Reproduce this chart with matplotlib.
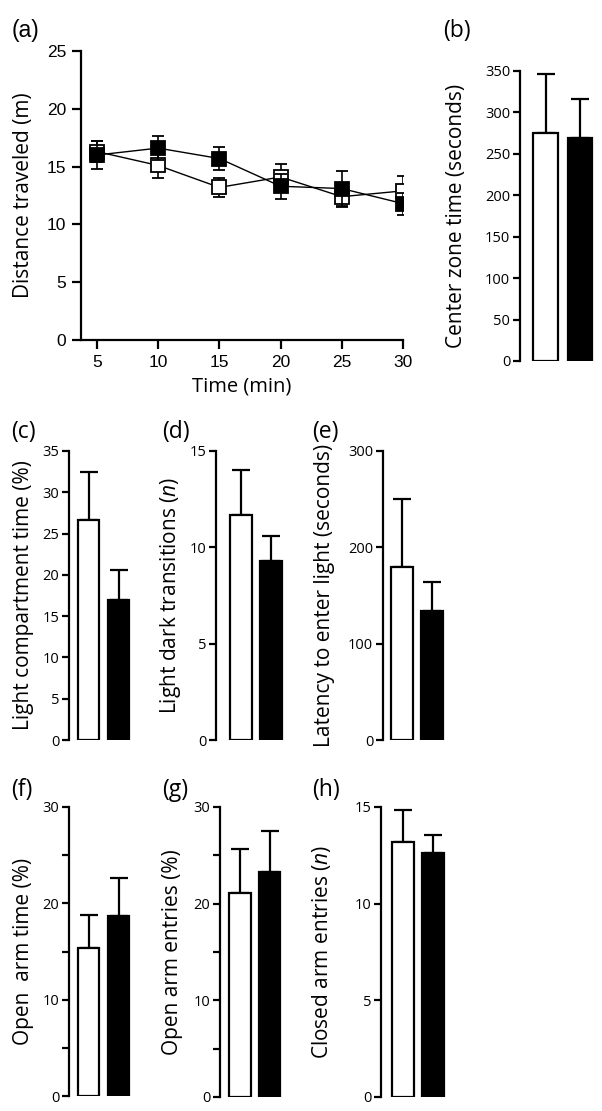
import matplotlib
matplotlib.use("Agg")
import matplotlib.pyplot as plt
import numpy as np

# ---------------- data ----------------
time_min = [5, 10, 15, 20, 25, 30]
dist_open = [16.3, 15.1, 13.2, 14.1, 12.4, 12.9]
dist_open_err = [0.9, 1.1, 0.85, 1.1, 0.9, 1.3]
dist_filled = [16.0, 16.6, 15.7, 13.3, 13.1, 11.8]
dist_filled_err = [1.2, 1.05, 1.0, 1.1, 1.55, 0.95]

center_zone = [274.7, 269.0]
center_zone_err = [71.5, 47.0]

light_comp = [26.7, 17.0]
light_comp_err = [5.8, 3.6]

ld_trans = [11.7, 9.3]
ld_trans_err = [2.3, 1.3]

latency = [180.0, 133.6]
latency_err = [70.5, 30.5]

open_arm_time = [15.4, 18.65]
open_arm_time_err = [3.4, 4.0]

open_arm_entries = [21.1, 23.3]
open_arm_entries_err = [4.6, 4.2]

closed_arm_entries = [13.2, 12.6]
closed_arm_entries_err = [1.65, 0.95]

W, H = 602, 1111
plt.rcParams['font.family'] = ['Open Sans', 'DejaVu Sans']
plt.rcParams['mathtext.fontset'] = 'custom'
plt.rcParams['mathtext.it'] = 'Open Sans:italic'
plt.rcParams['mathtext.rm'] = 'Open Sans'

fig = plt.figure(figsize=(W / 100, H / 100), dpi=100)

LETTER_SIZE = 16.5
YLABEL_SIZE = 15


def px_axes(left, top, right, bottom):
    return fig.add_axes([left / W, 1 - bottom / H, (right - left) / W, (bottom - top) / H])


# ---------------- panel (a) ----------------
axa = px_axes(81, 51, 403, 340)
for vals, errs, face in [(dist_open, dist_open_err, 'white'), (dist_filled, dist_filled_err, 'black')]:
    axa.errorbar(time_min, vals, yerr=errs, color='black', lw=1.0, elinewidth=1.2,
                 capsize=4.5, capthick=1.2, marker='s', markersize=9.5,
                 markerfacecolor=face, markeredgecolor='black', markeredgewidth=1.3,
                 zorder=3 if face == 'black' else 2)
axa.set_xlim(3.7, 30)
axa.set_ylim(0, 25)
axa.set_xticks(time_min)
axa.set_yticks([0, 5, 10, 15, 20, 25])
for s in ['top', 'right']:
    axa.spines[s].set_visible(False)
for s in ['left', 'bottom']:
    axa.spines[s].set_linewidth(1.6)
axa.tick_params(direction='out', length=6.5, width=1.6, labelsize=12.5, pad=4)
for lab in axa.get_xticklabels() + axa.get_yticklabels():
    lab.set_family('Liberation Sans')
axa.set_ylabel('Distance traveled (m)', fontsize=YLABEL_SIZE)
axa.yaxis.set_label_coords((34 - 81) / (403 - 81), 0.5)
axa.set_xlabel('Time (min)', fontsize=14.5, labelpad=5)
fig.text(12 / W, 1 - 30 / H, '(a)', fontsize=LETTER_SIZE, va='center', ha='left', family='Liberation Sans')


# ---------------- bar panels ----------------
def bar_panel(spine_x, top, bottom, white_c, black_c, vals, errs, ymax, ticks, ticklabels,
              ylabel, letter, letter_xy, ylabel_x):
    scale = black_c - white_c
    right = spine_x + 110
    ax = px_axes(spine_x, top, right, bottom)
    x0 = (spine_x - white_c) / scale
    x1 = (right - white_c) / scale
    x = np.arange(len(vals))
    ax.bar(x, vals, width=0.72, color=['white', 'black'], edgecolor='black', linewidth=1.6, zorder=2)
    ax.errorbar(x, vals, yerr=[np.zeros(len(vals)), errs], fmt='none', ecolor='black',
                elinewidth=1.6, capsize=6.5, capthick=1.6, zorder=1)
    ax.set_xlim(x0, x1)
    ax.set_ylim(0, ymax)
    ax.set_yticks(ticks)
    ax.set_yticklabels(ticklabels)
    ax.set_xticks([])
    for s in ['top', 'right', 'bottom']:
        ax.spines[s].set_visible(False)
    ax.spines['left'].set_linewidth(1.6)
    ax.spines['left'].set_bounds(0, ymax)
    ax.tick_params(axis='y', direction='out', length=5, width=1.6, labelsize=10.5, pad=2)
    ax.set_ylabel(ylabel, fontsize=YLABEL_SIZE)
    ax.yaxis.set_label_coords((ylabel_x - spine_x) / (right - spine_x), 0.5)
    fig.text(letter_xy[0] / W, 1 - letter_xy[1] / H, letter, fontsize=LETTER_SIZE, va='center', ha='left')
    return ax


bar_panel(520, 71, 361, 545.5, 580, center_zone, center_zone_err, 350,
          [0, 50, 100, 150, 200, 250, 300, 350], ['0', '50', '100', '150', '200', '250', '300', '350'],
          'Center zone time (seconds)', '(b)', (443, 31), 467)

bar_panel(69, 451, 740, 88.5, 118.5, light_comp, light_comp_err, 35,
          [0, 5, 10, 15, 20, 25, 30, 35], ['0', '5', '10', '15', '20', '25', '30', '35'],
          'Light compartment time (%)', '(c)', (11, 432), 34)

bar_panel(216, 451, 740, 241, 271, ld_trans, ld_trans_err, 15,
          [0, 5, 10, 15], ['0', '5', '10', '15'],
          r'Light dark transitions ($\it{n}$)', '(d)', (162, 432), 183)

bar_panel(383, 451, 740, 402, 432, latency, latency_err, 300,
          [0, 100, 200, 300], ['0', '100', '200', '300'],
          'Latency to enter light (seconds)', '(e)', (312, 432), 335)

bar_panel(69, 807, 1096, 88.5, 118.5, open_arm_time, open_arm_time_err, 30,
          [0, 5, 10, 15, 20, 25, 30], ['0', '', '10', '', '20', '', '30'],
          'Open  arm time (%)', '(f)', (11, 790), 34)

bar_panel(220, 807, 1097, 240, 269.5, open_arm_entries, open_arm_entries_err, 30,
          [0, 5, 10, 15, 20, 25, 30], ['0', '', '10', '', '20', '', '30'],
          'Open arm entries (%)', '(g)', (162, 790), 183)

bar_panel(381, 807, 1097, 403, 433, closed_arm_entries, closed_arm_entries_err, 15,
          [0, 5, 10, 15], ['0', '5', '10', '15'],
          r'Closed arm entries ($\it{n}$)', '(h)', (312, 790), 333)

fig.savefig('out.png', dpi=100)
